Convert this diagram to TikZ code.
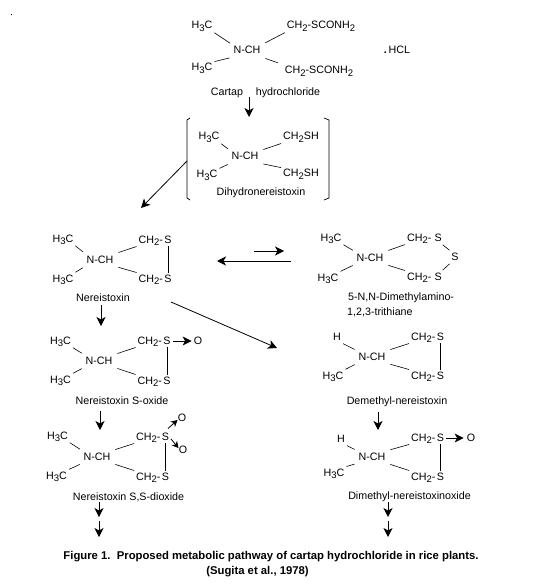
\documentclass[tikz,border=0pt]{standalone}
\usepackage{fontspec}
\setmainfont{Liberation Sans}
\usetikzlibrary{arrows.meta}
\newcommand\subs[1]{\raisebox{-2.2pt}{\fontsize{9.5}{10}\selectfont #1}}
\newcommand\HC{H\subs{3}C}
\newcommand\CH{CH\subs{2}}
\tikzset{
  x=1pt,y=-1pt,
  chem/.style={font=\fontsize{10.7}{12}\selectfont,inner sep=1pt,text height=8pt,text depth=2pt,anchor=center},
  lab/.style={font=\fontsize{10.7}{12}\selectfont,inner sep=0pt,anchor=center},
  figcap/.style={font=\bfseries\fontsize{11.3}{13}\selectfont,inner sep=0pt,anchor=center},
  lbond/.style={draw=black,line width=0.6pt,shorten <=1pt,shorten >=3pt},
  rbond/.style={draw=black,line width=0.6pt,shorten <=4pt,shorten >=1pt},
  ringbond/.style={draw=black,line width=0.9pt},
  rx/.style={draw=black,line width=0.8pt,-{Stealth[length=9pt,width=9pt,inset=2.5pt]}},
  rxs/.style={draw=black,line width=0.8pt,-{Stealth[length=6.5pt,width=7pt,inset=2pt]}},
  brk/.style={draw=black,line width=0.7pt},
}
\begin{document}
\begin{tikzpicture}
\useasboundingbox (0,0) rectangle (544,585);
\fill[white] (0,0) rectangle (544,585);
\fill[black] (11,14.5) rectangle (12,15.5);

% Cartap
\node[chem] (a1) at (202,26) {\HC};
\node[chem] (a2) at (202,68) {\HC};
\node[chem] (an) at (247,51) {N-CH};
\node[chem] (a3) at (321,26) {\CH-SCONH\subs{2}};
\node[chem] (a4) at (319,71) {\CH-SCONH\subs{2}};
\node[lab] (ahcl) at (397,50) {\textbf{.}\,HCL};
\node[lab] (acart) at (227,93) {Cartap};
\node[lab] (ahyd) at (288,93) {hydrochloride};
\draw[lbond] (a1.south east) -- (an.north west);
\draw[lbond] (a2.north east) -- (an.south west);
\draw[rbond] (an.north east) -- (a3.south west);
\draw[rbond,shorten >=6pt] (an.south east) -- (a4.north west);

% Dihydronereistoxin
\node[chem] (b1) at (209,137) {\HC};
\node[chem] (b2) at (207,175) {\HC};
\node[chem] (bn) at (245,157) {N-CH};
\node[chem] (b3) at (301,137) {\CH SH};
\node[chem] (b4) at (301,174) {\CH SH};
\node[lab] (blab) at (261,193) {Dihydronereistoxin};
\draw[lbond] (b1.south east) -- (bn.north west);
\draw[lbond] (b2.north east) -- (bn.south west);
\draw[rbond] (bn.north east) -- (b3.south west);
\draw[rbond] (bn.south east) -- (b4.north west);
\draw[brk] (190,118) -- (187,120) -- (187,198) -- (190,200);
\draw[brk] (324,118) -- (329,120) -- (329,198) -- (324,200);
\coordinate (bleft) at (187,161);
\coordinate (ctop) at (249,97);
\coordinate (cbot) at (249,117);
\coordinate (ctip) at (141,208);
\draw[rx] (ctop) -- (cbot);
\draw[rx] (bleft) -- (ctip);

% Nereistoxin
\node[chem] (c1) at (63,239) {\HC};
\node[chem] (c2) at (63,279) {\HC};
\node[chem] (cn) at (100,260) {N-CH};
\node[chem,anchor=west] (c3) at (137.5,240) {\CH-};
\node[chem,anchor=west,inner xsep=0pt] (c3s) at (c3.east) {S};
\node[chem,anchor=west] (c4) at (137.5,279) {\CH-};
\node[chem,anchor=west,inner xsep=0pt] (c4s) at (c4.east) {S};
\node[lab] (clab) at (103,298) {Nereistoxin};
\draw[lbond] (c1.south east) -- (cn.north west);
\draw[lbond] (c2.north east) -- (cn.south west);
\draw[rbond] (cn.north east) -- (c3.south west);
\draw[rbond] (cn.south east) -- (c4.north west);
\draw[ringbond] (c3s) -- (c4s);
\coordinate (d1) at (101,305);
\coordinate (d2) at (101,326);
\draw[rx] (d1) -- (d2);

% exchange arrows
\coordinate (e1) at (254,251);
\coordinate (e2) at (284,251);
\coordinate (e3) at (291,261);
\coordinate (e4) at (217,261);
\draw[rx] (e1) -- (e2);
\draw[rx] (e3) -- (e4);
\coordinate (f1) at (171,302);
\coordinate (f2) at (277,348);
\draw[rx] (f1) -- (f2);

% S-oxide
\node[chem] (g1) at (60.5,341) {\HC};
\node[chem] (g2) at (60.5,380) {\HC};
\node[chem] (gn) at (99,361) {N-CH};
\node[chem,anchor=west] (g3) at (136.5,341) {\CH-};
\node[chem,anchor=west,inner xsep=0pt] (g3s) at (g3.east) {S};
\node[chem,anchor=west] (g4) at (136.5,381) {\CH-};
\node[chem,anchor=west,inner xsep=0pt] (g4s) at (g4.east) {S};
\node[lab] (go) at (198,341) {O};
\node[lab] (glab) at (122,401) {Nereistoxin S-oxide};
\draw[lbond] (g1.south east) -- (gn.north west);
\draw[lbond] (g2.north east) -- (gn.south west);
\draw[rbond] (gn.north east) -- (g3.south west);
\draw[rbond] (gn.south east) -- (g4.north west);
\draw[ringbond] (g3s) -- (g4s);
\draw[rx,shorten <=2pt,shorten >=2pt] (g3s.east) -- (go.west);
\coordinate (h1) at (100,411);
\coordinate (h2) at (100,430);
\draw[rx] (h1) -- (h2);

% S,S-dioxide
\node[chem] (i1) at (57.5,436) {\HC};
\node[chem] (i2) at (56.5,476) {\HC};
\node[chem] (in) at (97,457) {N-CH};
\node[chem,anchor=west] (i3) at (135,437) {\CH-};
\node[chem,anchor=west,inner xsep=0pt] (i3s) at (i3.east) {S};
\node[chem,anchor=west] (i4) at (135,477) {\CH-};
\node[chem,anchor=west,inner xsep=0pt] (i4s) at (i4.east) {S};
\node[lab] (io1) at (182,418) {O};
\node[lab] (io2) at (183,450) {O};
\node[lab] (ilab) at (128.5,497) {Nereistoxin S,S-dioxide};
\draw[lbond] (i1.south east) -- (in.north west);
\draw[lbond] (i2.north east) -- (in.south west);
\draw[rbond] (in.north east) -- (i3.south west);
\draw[rbond] (in.south east) -- (i4.north west);
\draw[ringbond] (i3s) -- (i4s);
\coordinate (ia) at (168,428.5);
\coordinate (ib) at (177.5,420);
\coordinate (ic) at (171,439);
\coordinate (id) at (178.5,448);
\draw[rxs] (ia) -- (ib);
\draw[rxs] (ic) -- (id);
\coordinate (j1) at (99,502);
\coordinate (j2) at (99,517);
\coordinate (j3) at (99,521);
\coordinate (j4) at (99,537);
\draw[rx] (j1) -- (j2);
\draw[rx] (j3) -- (j4);

% Trithiane
\node[chem] (k1) at (331,238) {\HC};
\node[chem] (k2) at (328,278) {\HC};
\node[chem] (kn) at (370,258) {N-CH};
\node[chem,anchor=west] (k3) at (406,238) {\CH-\,};
\node[chem,anchor=west,inner xsep=0pt] (k3s) at (k3.east) {S};
\node[chem,anchor=west] (k4) at (406,277) {\CH-\,};
\node[chem,anchor=west,inner xsep=0pt] (k4s) at (k4.east) {S};
\node[chem] (ks) at (455,257) {S};
\node[lab,anchor=west] (klab1) at (348,298) {5-N,N-Dimethylamino-};
\node[lab,anchor=west] (klab2) at (347,312) {1,2,3-trithiane};
\draw[lbond] (k1.south east) -- (kn.north west);
\draw[lbond] (k2.north east) -- (kn.south west);
\draw[rbond] (kn.north east) -- (k3.south west);
\draw[rbond] (kn.south east) -- (k4.north west);
\draw[rbond,shorten <=1pt] (k3s.south east) -- (ks.north west);
\draw[rbond,shorten <=1pt] (k4s.north east) -- (ks.south west);

% Demethyl-nereistoxin
\node[chem] (m1) at (337,337) {H};
\node[chem] (m2) at (333,376) {\HC};
\node[chem] (mn) at (372,357) {N-CH};
\node[chem,anchor=west] (m3) at (410,337) {\CH-};
\node[chem,anchor=west,inner xsep=0pt] (m3s) at (m3.east) {S};
\node[chem,anchor=west] (m4) at (410,376) {\CH-};
\node[chem,anchor=west,inner xsep=0pt] (m4s) at (m4.east) {S};
\node[lab] (mlab) at (397,402) {Demethyl-nereistoxin};
\draw[lbond] (m1.south east) -- (mn.north west);
\draw[lbond] (m2.north east) -- (mn.south west);
\draw[rbond] (mn.north east) -- (m3.south west);
\draw[rbond] (mn.south east) -- (m4.north west);
\draw[ringbond] (m3s) -- (m4s);
\coordinate (n1) at (378,412);
\coordinate (n2) at (378,430);
\draw[rx] (n1) -- (n2);

% Dimethyl-nereistoxinoxide
\node[chem] (p1) at (341,439) {H};
\node[chem] (p2) at (334,473) {\HC};
\node[chem] (pn) at (372,457) {N-CH};
\node[chem,anchor=west] (p3) at (410,438) {\CH-};
\node[chem,anchor=west,inner xsep=0pt] (p3s) at (p3.east) {S};
\node[chem,anchor=west] (p4) at (410,477) {\CH-};
\node[chem,anchor=west,inner xsep=0pt] (p4s) at (p4.east) {S};
\node[lab] (po) at (471,438) {O};
\node[lab] (plab) at (409.5,497) {Dimethyl-nereistoxinoxide};
\draw[lbond] (p1.south east) -- (pn.north west);
\draw[lbond] (p2.north east) -- (pn.south west);
\draw[rbond] (pn.north east) -- (p3.south west);
\draw[rbond] (pn.south east) -- (p4.north west);
\draw[ringbond] (p3s) -- (p4s);
\draw[rx,shorten <=2pt,shorten >=3pt] (p3s.east) -- (po.west);
\coordinate (q1) at (388,502);
\coordinate (q2) at (388,517);
\coordinate (q3) at (388,521);
\coordinate (q4) at (388,537);
\draw[rx] (q1) -- (q2);
\draw[rx] (q3) -- (q4);

% Caption
\node[figcap] (cap1) at (271,557) {Figure 1.\ \ Proposed metabolic pathway of cartap hydrochloride in rice plants.};
\node[figcap] (cap2) at (257.5,572) {(Sugita et al., 1978)};
\end{tikzpicture}
\end{document}
